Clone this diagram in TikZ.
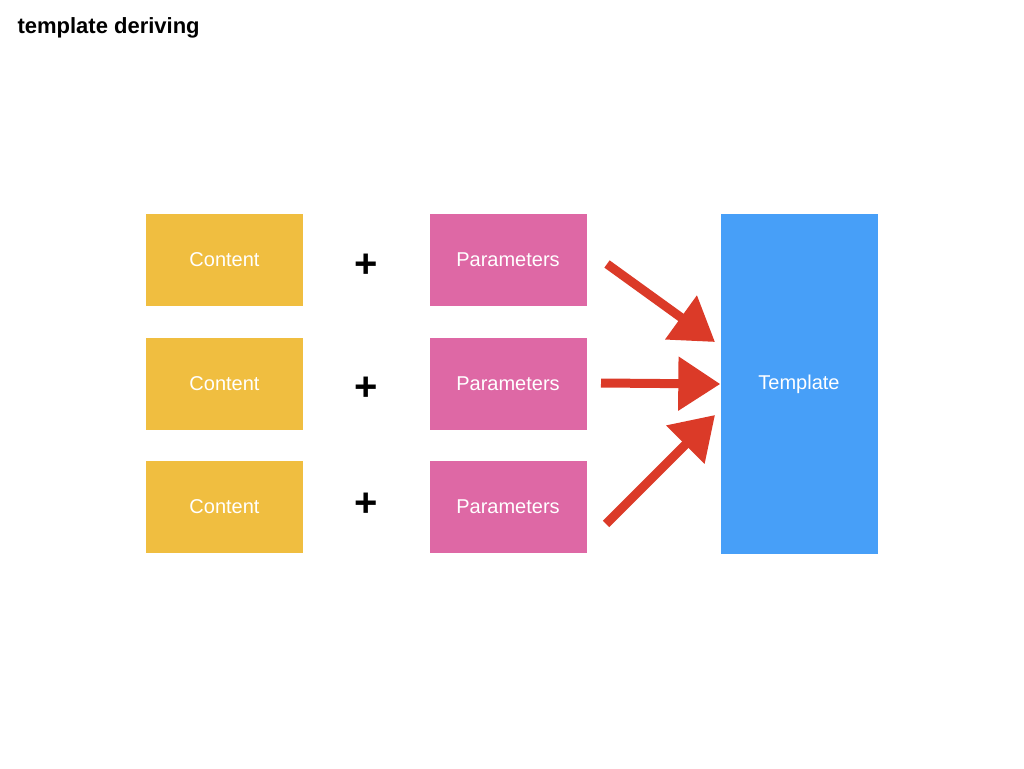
\documentclass[tikz,border=0pt]{standalone}
\usepackage{fontspec}
\setmainfont{Liberation Sans}
\usetikzlibrary{arrows.meta}
\definecolor{cyel}{HTML}{F0BE40}
\definecolor{cpink}{HTML}{DE68A5}
\definecolor{cblue}{HTML}{479FF8}
\definecolor{cred}{HTML}{DB3A28}
\begin{document}
\begin{tikzpicture}[x=1pt,y=-1pt,
  box/.style={minimum width=157pt,minimum height=92pt,inner sep=0pt,text=white,font=\fontsize{20}{24}\selectfont},
  plus/.style={font=\bfseries\fontsize{40}{40}\selectfont},
  redarrow/.style={draw=cred,line width=9pt,-{Triangle[length=42pt,width=52pt]}}]
\useasboundingbox (0,0) rectangle (1024,768);
\node[anchor=north west,font=\bfseries\fontsize{22}{26}\selectfont] (title) at (14,14) {template deriving};
\node[box,fill=cyel] (c1) at (224.5,260) {Content};
\node[box,fill=cyel] (c2) at (224.5,384) {Content};
\node[box,fill=cyel] (c3) at (224.5,507) {Content};
\node[box,fill=cpink] (p1) at (508,260) {Parameters};
\node[box,fill=cpink] (p2) at (508,384) {Parameters};
\node[box,fill=cpink] (p3) at (508,507) {Parameters};
\node[box,fill=cblue,minimum height=340pt] (t) at (799,384) {Template};
\node[plus] (s1) at (366,266) {+};
\node[plus] (s2) at (366,389) {+};
\node[plus] (s3) at (366,505) {+};
\coordinate (a1) at (607,264);
\coordinate (a2) at (601,383);
\coordinate (a3) at (606,524);
\coordinate (e1) at (715,342);
\coordinate (e3) at (715,415);
\draw[redarrow] (a1) -- (e1);
\draw[redarrow] (a2) -- (t.west);
\draw[redarrow] (a3) -- (e3);
\end{tikzpicture}
\end{document}
